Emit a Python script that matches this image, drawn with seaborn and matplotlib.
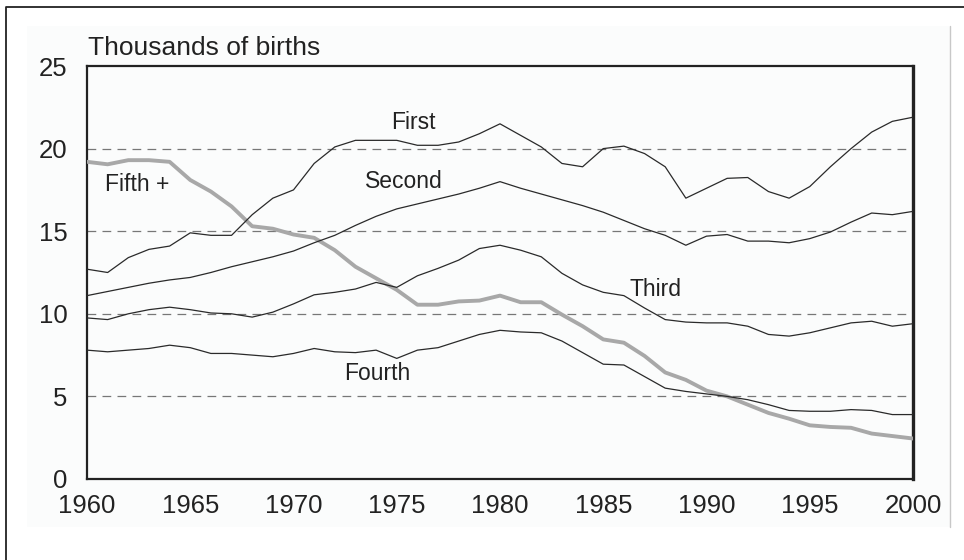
import numpy as np
import pandas as pd
import matplotlib.pyplot as plt
from matplotlib.patches import Rectangle
from matplotlib.lines import Line2D
import seaborn as sns

years = list(range(1960, 2001))

first = [12.7, 12.5, 13.4, 13.9, 14.1, 14.9, 14.75, 14.75, 16.0, 17.0,
         17.5, 19.1, 20.1, 20.5, 20.5, 20.5, 20.2, 20.2, 20.4, 20.9,
         21.5, 20.8, 20.1, 19.1, 18.9, 20.0, 20.15, 19.7, 18.9, 17.0,
         17.6, 18.2, 18.25, 17.4, 17.0, 17.7, 18.9, 20.0, 21.0, 21.65, 21.9]
second = [11.1, 11.35, 11.6, 11.85, 12.05, 12.2, 12.5, 12.85, 13.15, 13.45,
          13.8, 14.3, 14.75, 15.35, 15.9, 16.35, 16.65, 16.95, 17.25, 17.6,
          18.0, 17.6, 17.25, 16.9, 16.55, 16.15, 15.65, 15.15, 14.75, 14.15,
          14.7, 14.8, 14.4, 14.4, 14.3, 14.55, 14.95, 15.55, 16.1, 16.0, 16.2]
third = [9.75, 9.65, 10.0, 10.25, 10.4, 10.25, 10.05, 10.0, 9.8, 10.1,
         10.6, 11.15, 11.3, 11.5, 11.9, 11.6, 12.3, 12.75, 13.25, 13.95,
         14.15, 13.85, 13.45, 12.45, 11.75, 11.3, 11.1, 10.35, 9.65, 9.5,
         9.45, 9.45, 9.25, 8.75, 8.65, 8.85, 9.15, 9.45, 9.55, 9.25, 9.4]
fourth = [7.8, 7.7, 7.8, 7.9, 8.1, 7.95, 7.6, 7.6, 7.5, 7.4,
          7.6, 7.9, 7.7, 7.65, 7.8, 7.3, 7.8, 7.95, 8.35, 8.75,
          9.0, 8.9, 8.85, 8.35, 7.65, 6.95, 6.9, 6.2, 5.5, 5.3,
          5.15, 5.0, 4.8, 4.5, 4.15, 4.1, 4.1, 4.2, 4.15, 3.9, 3.9]
fifth_plus = [19.2, 19.05, 19.3, 19.3, 19.2, 18.1, 17.4, 16.5, 15.3, 15.15,
              14.8, 14.6, 13.85, 12.85, 12.15, 11.45, 10.55, 10.55, 10.75, 10.8,
              11.1, 10.7, 10.7, 9.95, 9.25, 8.45, 8.25, 7.45, 6.45, 6.0,
              5.35, 5.0, 4.5, 4.0, 3.65, 3.25, 3.15, 3.1, 2.75, 2.6, 2.45]

series_names = ['Fifth +', 'First', 'Second', 'Third', 'Fourth']
series_values = [fifth_plus, first, second, third, fourth]

# label positions in data units
label_pos = {
    'First': (1975.8, 21.55),
    'Second': (1975.35, 18.0),
    'Third': (1987.55, 11.5),
    'Fourth': (1974.07, 6.4),
    'Fifth +': (1962.42, 17.85),
}

sns.set_style('white')
plt.rcParams['font.family'] = ['Liberation Sans', 'DejaVu Sans']

df = pd.DataFrame({
    'year': years * len(series_names),
    'births': sum(series_values, []),
    'order': np.repeat(series_names, len(years)),
})

fig = plt.figure(figsize=(9.64, 5.6), dpi=100)
W, H = 964, 560

# outer frame + faint panel behind the axes
fig.patches.append(Rectangle((27 / W, 1 - 527 / H), (950 - 27) / W, (527 - 26) / H,
                             transform=fig.transFigure, facecolor='#fbfcfc',
                             edgecolor='none', zorder=-5))
fig.lines.append(Line2D([950 / W, 950 / W], [1 - 26 / H, 1 - 527 / H],
                        transform=fig.transFigure, color='#c8c8c8', lw=1, zorder=-4))
fig.lines.append(Line2D([6 / W, 6 / W, 1.0], [0, 1 - 7 / H, 1 - 7 / H],
                        transform=fig.transFigure, color='#222222', lw=1.3, zorder=-4))

ax = fig.add_axes([87 / W, 1 - 479 / H, (913 - 87) / W, (479 - 66) / H])
ax.set_facecolor('#fbfcfc')

palette = {'Fifth +': '#a8a8a8', 'First': '#2a2a2a', 'Second': '#2a2a2a',
           'Third': '#2a2a2a', 'Fourth': '#2a2a2a'}
sizes = {'Fifth +': 2.8, 'First': 0.9, 'Second': 0.9, 'Third': 0.9, 'Fourth': 0.9}
sns.lineplot(data=df, x='year', y='births', hue='order', size='order',
             palette=palette, sizes=sizes, hue_order=series_names,
             size_order=series_names, legend=False, ax=ax, zorder=3)

for name, (lx, ly) in label_pos.items():
    ax.text(lx, ly, name, ha='center', va='center', fontsize=16.5, color='#222222')

ax.set_xlim(1960, 2000)
ax.set_ylim(0, 25)
ax.set_xticks(range(1960, 2001, 5))
ax.set_yticks(range(0, 26, 5))
for yv in [5, 10, 15, 20]:
    ax.axhline(yv, color='#777777', lw=0.9, ls=(0, (7, 5)), zorder=1)

ax.tick_params(axis='x', direction='in', length=10, width=0.9, color='#666666',
               labelsize=18.5, pad=11, labelcolor='#222222')
ax.tick_params(axis='y', length=0, labelsize=18.5, pad=14, labelcolor='#222222')
ax.set_xlabel('')
ax.set_ylabel('')

for side in ['left', 'bottom', 'top']:
    ax.spines[side].set_linewidth(1.6)
    ax.spines[side].set_color('#222222')
ax.spines['right'].set_linewidth(2.4)
ax.spines['right'].set_color('#222222')

fig.text(88 / W, 1 - 55 / H, 'Thousands of births', fontsize=19,
         ha='left', va='baseline', color='#222222')

fig.savefig('out.png', dpi=100)
